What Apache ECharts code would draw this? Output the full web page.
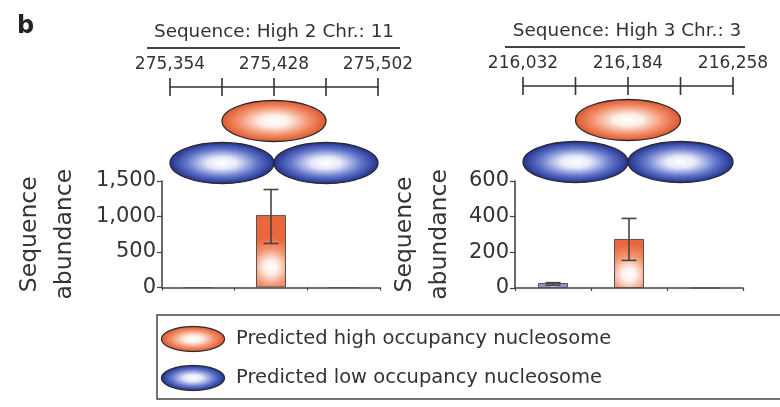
<!DOCTYPE html>
<html><head><meta charset="utf-8">
<script src="https://cdn.jsdelivr.net/npm/echarts@6/dist/echarts.min.js"></script>
<style>html,body{margin:0;padding:0;background:#fff}#c{width:780px;height:407px}</style>
</head><body><div id="c"></div>
<script>
// ---- data ----
const panelTitles = ['Sequence: High 2 Chr.: 11', 'Sequence: High 3 Chr.: 3'];
const scaleLabelsLeft = ['275,354', '', '275,428', '', '275,502'];
const scaleLabelsRight = ['216,032', '', '216,184', '', '216,258'];
const scaleTicks = [0, 1, 2, 3, 4];
const highNucLeft = [2];
const lowNucLeft = [1, 3];
const highNucRight = [2];
const lowNucRight = [1, 3];
const nucCategories = ['low-1', 'high', 'low-2'];
const nucTypes = ['low', 'high', 'low'];
const abundanceLeft = [0, 1020, 0];
const errLowLeft = [null, 620, null];
const errHighLeft = [null, 1380, null];
const abundanceRight = [28, 275, 0];
const errLowRight = [16, 155, null];
const errHighRight = [30, 390, null];
const yMaxLeft = 1500, yStepLeft = 500;
const yMaxRight = 600, yStepRight = 200;
const legendNames = ['Predicted high occupancy nucleosome', 'Predicted low occupancy nucleosome'];
const yName = 'Sequence\nabundance';

// ---- styles ----
const FONT = 'DejaVu Sans';
const TEXT = '#333';
const LINE = '#444';
const NUC_STOPS = {
  high: [[0, '#ffffff'], [0.28, '#fdeee8'], [0.68, '#f2916c'], [1, '#dc5830']],
  low:  [[0, '#ffffff'], [0.28, '#e6e9f9'], [0.68, '#6276cb'], [1, '#23328e']]
};
function nucGrad(type) {
  return {type: 'radial', x: 0.5, y: 0.5, r: 0.5,
    colorStops: NUC_STOPS[type].map(s => ({offset: s[0], color: s[1]}))};
}
function barGrad(type) {
  return type === 'high'
    ? {type: 'radial', x: 0.5, y: 0.72, r: 1.0, colorStops: [
        {offset: 0, color: '#ffffff'}, {offset: 0.22, color: '#fff1ea'},
        {offset: 0.62, color: '#f3936d'}, {offset: 1, color: '#ea673e'}]}
    : {type: 'radial', x: 0.5, y: 0.5, r: 1.0, colorStops: [
        {offset: 0, color: '#c8cbe6'}, {offset: 1, color: '#8e93c8'}]};
}
// legend icon: an ellipse with a stretched radial highlight, drawn once on a canvas
function legendIcon(type) {
  const cv = document.createElement('canvas');
  cv.width = 132; cv.height = 56;
  const ctx = cv.getContext('2d');
  const rx = 63, ry = 25;
  ctx.save();
  ctx.translate(66, 28);
  ctx.scale(rx / ry, 1);
  const g = ctx.createRadialGradient(0, 0, 0, 0, 0, ry);
  NUC_STOPS[type].forEach(s => g.addColorStop(s[0], s[1]));
  ctx.fillStyle = g;
  ctx.beginPath(); ctx.arc(0, 0, ry, 0, Math.PI * 2); ctx.fill();
  ctx.restore();
  ctx.beginPath(); ctx.ellipse(66, 28, rx, ry, 0, 0, Math.PI * 2);
  ctx.strokeStyle = '#2a2a2a'; ctx.lineWidth = 2.4; ctx.stroke();
  return 'image://' + cv.toDataURL();
}

function nucRender(type) {
  return function (params, api) {
    const c = api.coord([api.value(0), type === 'high' ? 34 : 76]);
    const rx = api.size([1, 0])[0];
    const ry = 20.5;
    return {type: 'group', children: [
      {type: 'circle', x: c[0], y: c[1], scaleX: rx / ry, scaleY: 1,
       shape: {cx: 0, cy: 0, r: ry}, style: {fill: nucGrad(type)}},
      {type: 'ellipse', shape: {cx: c[0], cy: c[1], rx: rx, ry: ry},
       style: {fill: null, stroke: '#2a2a2a', lineWidth: 1.3}}
    ]};
  };
}
function tickRender(params, api) {
  const c = api.coord([api.value(0), 0]);
  return {type: 'line', shape: {x1: c[0], y1: c[1] - 9, x2: c[0], y2: c[1] + 9},
          style: {stroke: '#333', lineWidth: 1.6}};
}
function errRender(params, api) {
  const x = api.value(0), lo = api.value(1), hi = api.value(2);
  const a = api.coord([x, lo]), b = api.coord([x, hi]);
  const w = 7.5;
  const st = {stroke: LINE, lineWidth: 1.6};
  return {type: 'group', children: [
    {type: 'line', shape: {x1: a[0], y1: a[1], x2: b[0], y2: b[1]}, style: st},
    {type: 'line', shape: {x1: b[0] - w, y1: b[1], x2: b[0] + w, y2: b[1]}, style: st},
    {type: 'line', shape: {x1: a[0] - w, y1: a[1], x2: a[0] + w, y2: a[1]}, style: st}
  ]};
}
function errData(lo, hi) {
  const out = [];
  lo.forEach((v, i) => { if (v != null) out.push([i, v, hi[i]]); });
  return out;
}

function scaleX(gridIndex, labels) {
  return {type: 'value', gridIndex, min: 0, max: 4, interval: 1, position: 'top',
    axisLine: {show: true, lineStyle: {color: '#333', width: 1.6}},
    axisTick: {show: false}, splitLine: {show: false},
    axisLabel: {show: true, margin: 14, fontFamily: FONT, fontSize: 17, color: TEXT,
      formatter: v => labels[Math.round(v)] || ''}};
}
function scaleY(gridIndex) {
  return {type: 'value', gridIndex, min: 0, max: 100, inverse: true, show: false,
    splitLine: {show: false}};
}
function barX(gridIndex) {
  return {type: 'category', gridIndex, data: nucCategories, boundaryGap: true,
    axisLine: {show: true, lineStyle: {color: LINE, width: 1.6}},
    axisTick: {show: true, length: 3, lineStyle: {color: LINE, width: 1.2}},
    axisLabel: {show: false}, splitLine: {show: false}};
}
function barY(gridIndex, max, step, gap) {
  return {type: 'value', gridIndex, min: 0, max: max, interval: step,
    name: yName, nameLocation: 'middle', nameRotate: 90, nameGap: gap, nameMoveOverlap: false,
    nameTextStyle: {fontFamily: FONT, fontSize: 23.5, color: TEXT, lineHeight: 35},
    axisLine: {show: true, lineStyle: {color: LINE, width: 1.6}},
    axisTick: {show: true, length: 5, lineStyle: {color: LINE, width: 1.2}},
    splitLine: {show: false},
    axisLabel: {fontFamily: FONT, fontSize: 21, color: TEXT, margin: 6,
      formatter: v => v.toLocaleString('en-US')}};
}
function nucSeries(name, data, xi, type) {
  return {type: 'custom', name, coordinateSystem: 'cartesian2d', xAxisIndex: xi, yAxisIndex: xi,
    itemStyle: {color: nucGrad(type)}, data: data.map(v => [v]), encode: {x: 0},
    renderItem: nucRender(type), silent: true, z: 3};
}

const chart = echarts.init(document.getElementById('c'), null, {renderer: 'canvas'});
chart.setOption({
  animation: false,
  backgroundColor: '#fff',
  title: [
    {text: 'b', left: 17, top: 15, padding: 0,
     textStyle: {fontFamily: FONT, fontSize: 24, fontWeight: 'bold', color: '#222'}},
    {text: panelTitles[0], left: 274, top: 23, padding: 0, textAlign: 'center',
     textStyle: {fontFamily: FONT, fontSize: 18.4, fontWeight: 'normal', color: TEXT}},
    {text: panelTitles[1], left: 627, top: 22, padding: 0, textAlign: 'center',
     textStyle: {fontFamily: FONT, fontSize: 18.4, fontWeight: 'normal', color: TEXT}}
  ],
  graphic: [
    {type: 'line', shape: {x1: 147, y1: 48, x2: 400, y2: 48}, style: {stroke: LINE, lineWidth: 2}},
    {type: 'line', shape: {x1: 505, y1: 47, x2: 745, y2: 47}, style: {stroke: LINE, lineWidth: 2}}
  ],
  legend: {
    orient: 'vertical', left: 157, top: 315,
    data: legendNames.map((n, i) => ({name: n, icon: legendIcon(i === 0 ? 'high' : 'low')})),
    itemWidth: 66, itemHeight: 28, itemGap: 11,
    padding: [10, 220, 7, 3],
    borderColor: '#444', borderWidth: 1.5, borderRadius: 0,
    selectedMode: false,
    textStyle: {fontFamily: FONT, fontSize: 19.5, color: TEXT, padding: [0, 0, 0, 5]}
  },
  grid: [
    {left: 170, top: 87, width: 208, height: 100, outerBoundsMode: 'none'},
    {left: 523, top: 86, width: 210, height: 100, outerBoundsMode: 'none'},
    {left: 162, top: 181, width: 218, height: 106.5, outerBoundsMode: 'none'},
    {left: 515, top: 181, width: 228, height: 107, outerBoundsMode: 'none'}
  ],
  xAxis: [scaleX(0, scaleLabelsLeft), scaleX(1, scaleLabelsRight), barX(2), barX(3)],
  yAxis: [scaleY(0), scaleY(1), barY(2, yMaxLeft, yStepLeft, 80), barY(3, yMaxRight, yStepRight, 58)],
  series: [
    {type: 'custom', coordinateSystem: 'cartesian2d', xAxisIndex: 0, yAxisIndex: 0,
     data: scaleTicks.map(v => [v]), encode: {x: 0}, renderItem: tickRender, silent: true},
    {type: 'custom', coordinateSystem: 'cartesian2d', xAxisIndex: 1, yAxisIndex: 1,
     data: scaleTicks.map(v => [v]), encode: {x: 0}, renderItem: tickRender, silent: true},
    nucSeries(legendNames[0], highNucLeft, 0, 'high'),
    nucSeries(legendNames[1], lowNucLeft, 0, 'low'),
    nucSeries(legendNames[0], highNucRight, 1, 'high'),
    nucSeries(legendNames[1], lowNucRight, 1, 'low'),
    {type: 'bar', xAxisIndex: 2, yAxisIndex: 2, barWidth: 30, silent: true,
     data: abundanceLeft.map((v, i) => ({value: v, itemStyle: {color: barGrad(nucTypes[i])}})),
     itemStyle: {borderColor: '#555', borderWidth: 1}},
    {type: 'bar', xAxisIndex: 3, yAxisIndex: 3, barWidth: 30, silent: true,
     data: abundanceRight.map((v, i) => ({value: v, itemStyle: {color: barGrad(nucTypes[i])}})),
     itemStyle: {borderColor: '#555', borderWidth: 1}},
    {type: 'custom', coordinateSystem: 'cartesian2d', xAxisIndex: 2, yAxisIndex: 2, z: 5,
     data: errData(errLowLeft, errHighLeft), encode: {x: 0, y: [1, 2]}, renderItem: errRender, silent: true},
    {type: 'custom', coordinateSystem: 'cartesian2d', xAxisIndex: 3, yAxisIndex: 3, z: 5,
     data: errData(errLowRight, errHighRight), encode: {x: 0, y: [1, 2]}, renderItem: errRender, silent: true}
  ]
});
</script></body></html>
